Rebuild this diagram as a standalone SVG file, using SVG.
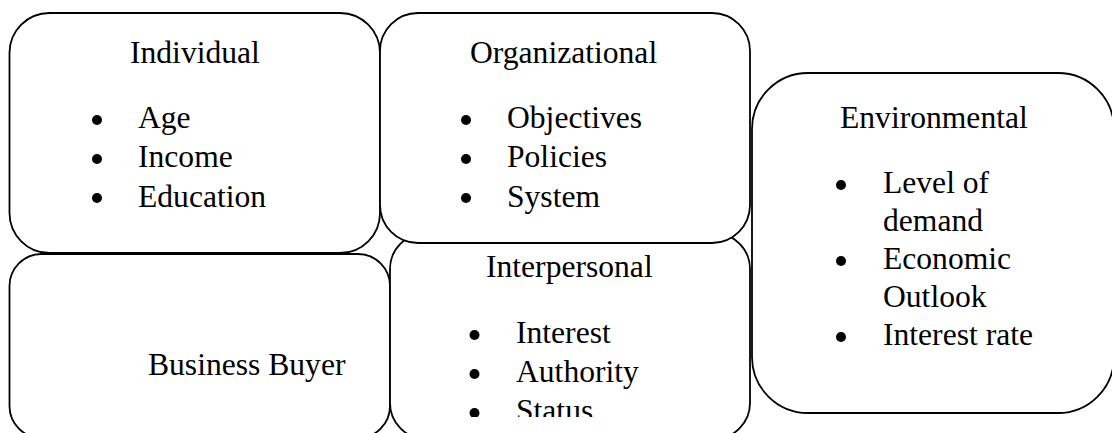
<svg xmlns="http://www.w3.org/2000/svg" width="1112" height="433" viewBox="0 0 1112 433">
<style>
.box{fill:#fff;stroke:#000;stroke-width:1.8}
text{font-family:"Liberation Serif","Times New Roman",serif;font-size:31.6px;fill:#000}
.b{fill:#000}
</style>
<defs>
<clipPath id="clipInter"><rect x="390" y="233" width="360" height="184"/></clipPath>
</defs>
<rect width="1112" height="433" fill="#fff"/>
<g id="connectors"></g>
<g id="business-buyer">
<rect class="box" x="9.5" y="254" width="380.5" height="184" rx="32"/>
<text x="148" y="375">Business Buyer</text>
</g>
<g id="interpersonal">
<rect class="box" x="390" y="233" width="360" height="206" rx="36"/>
<g clip-path="url(#clipInter)">
<text x="486" y="277">Interpersonal</text>
<circle class="b" cx="474.5" cy="335" r="5"/>
<circle class="b" cx="474.5" cy="374" r="5"/>
<circle class="b" cx="474.5" cy="413" r="5"/>
<text x="516" y="343">Interest</text>
<text x="516" y="382">Authority</text>
<text x="516" y="421">Status</text>
</g>
</g>
<g id="individual">
<rect class="box" x="9.5" y="13" width="370.5" height="240" rx="40"/>
<text x="130" y="63">Individual</text>
<circle class="b" cx="97" cy="120" r="5"/>
<circle class="b" cx="97" cy="159" r="5"/>
<circle class="b" cx="97" cy="198" r="5"/>
<text x="138" y="128">Age</text>
<text x="138" y="167">Income</text>
<text x="138" y="207">Education</text>
</g>
<g id="organizational">
<rect class="box" x="380" y="13" width="370" height="230" rx="38"/>
<text x="470" y="63">Organizational</text>
<circle class="b" cx="466" cy="120" r="5"/>
<circle class="b" cx="466" cy="159" r="5"/>
<circle class="b" cx="466" cy="198" r="5"/>
<text x="507" y="128">Objectives</text>
<text x="507" y="167">Policies</text>
<text x="507" y="207">System</text>
</g>
<g id="environmental">
<rect class="box" x="752" y="73" width="362" height="340" rx="56"/>
<text x="840" y="128">Environmental</text>
<circle class="b" cx="841" cy="185" r="5"/>
<circle class="b" cx="841" cy="261" r="5"/>
<circle class="b" cx="841" cy="337" r="5"/>
<text x="883" y="193">Level of</text>
<text x="883" y="231">demand</text>
<text x="883" y="269">Economic</text>
<text x="883" y="307">Outlook</text>
<text x="883" y="345">Interest rate</text>
</g>
</svg>
